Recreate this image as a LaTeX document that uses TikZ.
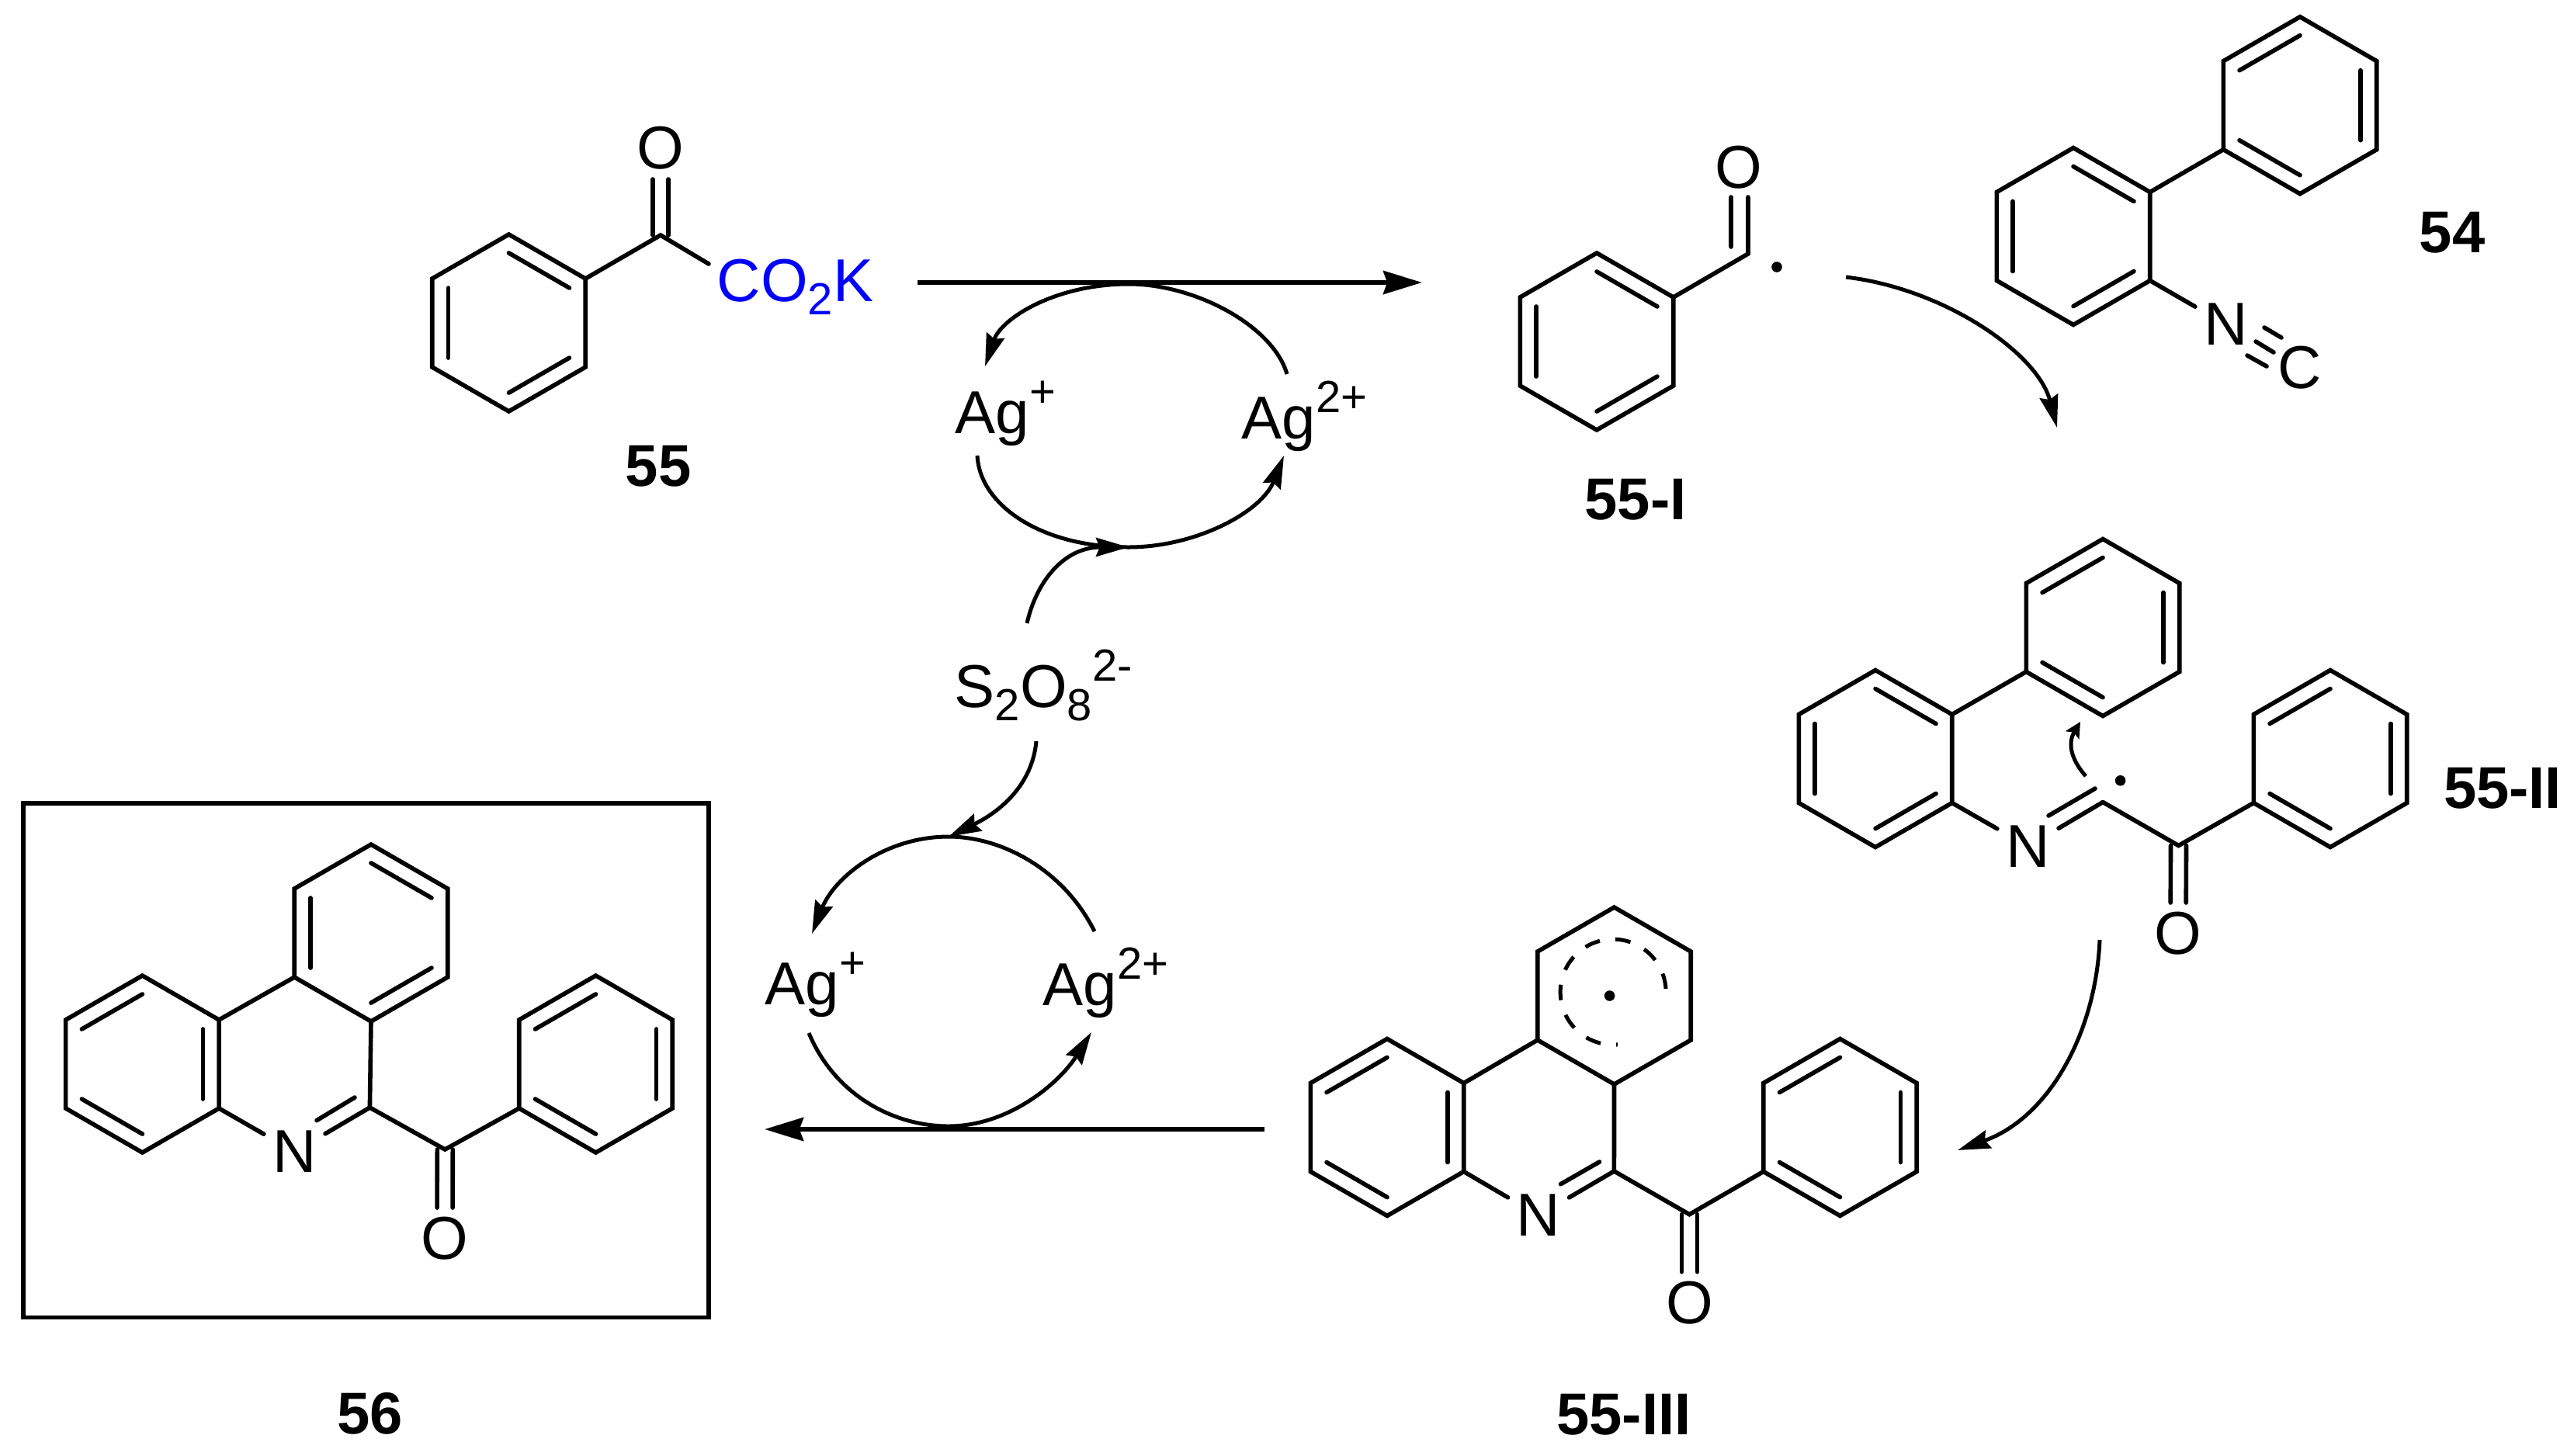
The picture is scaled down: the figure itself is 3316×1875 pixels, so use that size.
\documentclass[tikz,border=0pt]{standalone}
\usepackage{fontspec}
\setmainfont{Liberation Sans}
\usetikzlibrary{arrows.meta,calc}

\newcommand{\sbs}[1]{\raisebox{-4.3pt}{\fontsize{14.5}{15}\selectfont #1}}
\newcommand{\sps}[1]{\raisebox{8.3pt}{\fontsize{14.5}{15}\selectfont #1}}
% six named corners, clockwise from the top one
\newcommand{\hexring}[3]{
	\coordinate (#1c) at (#2,#3);
	\foreach \k in {1,...,6}
		\coordinate (#1\k) at ({#2+114*cos(60*\k-150)},{#3+114*sin(60*\k-150)});
	\draw[bond] (#11) -- (#12) -- (#13) -- (#14) -- (#15) -- (#16) -- cycle;
}
\newcommand{\ringdbl}[2]{
	\foreach \a/\b in {#2}
		\draw[bond] ($(#1\a)!.21!(#1c)$) -- ($(#1\b)!.21!(#1c)$);
}
\newcommand{\cobond}[2]{
	\draw[bond,shorten >=10pt] ([xshift=-2.5pt]#1) -- ([xshift=-2.5pt]#2.center);
	\draw[bond,shorten >=10pt] ([xshift=2.5pt]#1) -- ([xshift=2.5pt]#2.center);
}

\begin{document}
\begin{tikzpicture}[x=.25pt,y=-.25pt,
		every node/.style={font=\fontsize{19.5}{22}\selectfont},
		bond/.style={line width=1.4pt,line cap=round,line join=miter},
		rxn/.style={line width=1.5pt,-{Stealth[length=12.5pt,width=7.5pt,inset=1.3pt]}},
		curly/.style={line width=1.25pt,-{Stealth[length=10.5pt,width=6pt,inset=1.2pt]}},
		atom/.style={circle,inner sep=0pt,minimum size=22.5pt},
		txt/.style={inner sep=0pt,anchor=base west},
		cmpd/.style={inner sep=0pt,font=\fontsize{19}{22}\selectfont\bfseries},
		raddot/.style={circle,fill=black,inner sep=0pt,minimum size=3.4pt}]
	\useasboundingbox (0,0) rectangle (3316,1875);

	% 55
	\hexring{A}{655.5}{416}
	\ringdbl{A}{1/2,3/4,5/6}
	\coordinate (Ak) at (851,303);
	\coordinate (Ae) at (913,340);
	\node (AO) [atom] at (851,191) {O};
	\node (AK) [txt,text={rgb,255:red,0;green,0;blue,255}] at (923,388) {CO\sbs{2}K};
	\node (A55) [cmpd] at (848,601) {55};
	\draw[bond] (A2) -- (Ak) -- (Ae);
	\cobond{Ak}{AO}

	% 55-I
	\hexring{B}{2057}{440}
	\ringdbl{B}{1/2,3/4,5/6}
	\coordinate (Bk) at (2252,327);
	\coordinate (Bt) at (2252,254);
	\coordinate (Bu) at (2230,254);
	\coordinate (Bv) at (2230,318);
	\node (BO) [atom] at (2240,216) {O};
	\node (Bdot) [raddot] at (2289,344) {};
	\node (B55) [cmpd] at (2107,644) {55-I};
	\draw[bond] (B2) -- (Bk) -- (Bt) (Bu) -- (Bv);

	% 54
	\hexring{C}{2671}{304.5}
	\hexring{G}{2963}{135.7}
	\ringdbl{C}{1/2,3/4,5/6}
	\ringdbl{G}{6/1,2/3,4/5}
	\node (CN) [atom] at (2867.5,418) {N};
	\node (CC) [atom] at (2962.5,474) {C};
	\coordinate (Ct1) at (2917,422);
	\coordinate (Ct2) at (2939,435);
	\coordinate (Ct3) at (2906,440);
	\coordinate (Ct4) at (2929,454);
	\coordinate (Ct5) at (2895,458);
	\coordinate (Ct6) at (2920,472);
	\node (C54) [cmpd] at (3159,300) {54};
	\draw[bond] (C2) -- (G5) (C3) -- (CN) (Ct1) -- (Ct2) (Ct3) -- (Ct4) (Ct5) -- (Ct6);

	% 55-II
	\hexring{D}{2416}{977.5}
	\hexring{H}{2709}{808.5}
	\hexring{J}{3002}{977.5}
	\ringdbl{D}{1/2,3/4,5/6}
	\ringdbl{H}{6/1,2/3,4/5}
	\ringdbl{J}{6/1,2/3,4/5}
	\node (DN) [atom] at (2612.6,1090.5) {N};
	\node (DO) [atom] at (2806,1203) {O};
	\coordinate (Di) at (2709,1033.5);
	\coordinate (Dk) at (2806.5,1089.5);
	\coordinate (Du) at (2699,1016);
	\coordinate (Dv) at (2639,1051);
	\node (Ddot) [raddot] at (2731.6,1005.7) {};
	\node (D55) [cmpd] at (3224,1016) {55-II};
	\draw[bond] (D2) -- (H5) (D3) -- (DN) (Di) -- (DN) (Du) -- (Dv) (Di) -- (Dk) -- (J5);
	\cobond{Dk}{DO}

	% 55-III
	\hexring{E}{1787}{1452.5}
	\hexring{K}{2079.5}{1283}
	\hexring{L}{2370.5}{1452.5}
	\ringdbl{E}{6/1,2/3,4/5}
	\ringdbl{L}{6/1,2/3,4/5}
	\node (EN) [atom] at (1982,1566) {N};
	\node (EO) [atom] at (2176.4,1678.7) {O};
	\coordinate (Ei) at (2079.4,1509);
	\coordinate (Ek) at (2176.4,1564.7);
	\coordinate (Eu) at (2060.5,1497);
	\coordinate (Ev) at (2010.5,1525.7);
	\node (Edot) [raddot] at (2073.6,1283) {};
	\node (E55) [cmpd] at (2092,1822.5) {55-III};
	\draw[bond] (E2) -- (K5) (K4) -- (Ei) (E3) -- (EN) (Ei) -- (EN) (Eu) -- (Ev) (Ei) -- (Ek) -- (L5);
	\cobond{Ek}{EO}
	\draw[line width=1.25pt,dash pattern=on 5pt off 5pt] (2146,1274) arc[start angle=-3.5,end angle=-275,radius=68];

	% 56
	\draw[bond,line cap=butt] (30,1035) rectangle (913,1697.5);
	\hexring{F}{183.4}{1371}
	\hexring{M}{478}{1202}
	\hexring{P}{767.5}{1371}
	\ringdbl{F}{6/1,2/3,4/5}
	\ringdbl{M}{1/2,3/4,5/6}
	\ringdbl{P}{6/1,2/3,4/5}
	\node (FN) [atom] at (379.5,1484) {N};
	\node (FO) [atom] at (573,1596) {O};
	\coordinate (Fi) at (476.4,1427);
	\coordinate (Fk) at (573.3,1481);
	\coordinate (Fu) at (457,1414);
	\coordinate (Fv) at (408,1443.6);
	\node (F56) [cmpd] at (477,1821) {56};
	\draw[bond] (F2) -- (M5) (M4) -- (Fi) (F3) -- (FN) (Fi) -- (FN) (Fu) -- (Fv) (Fi) -- (Fk) -- (P5);
	\cobond{Fk}{FO}

	% upper silver cycle
	\node (Agp1) [txt] at (1230,558) {Ag\sps{+}};
	\node (Agd1) [txt] at (1599,565) {Ag\sps{2+}};
	\node (S2O8) [txt] at (1229,911) {S\sbs{2}O\sbs{8}\sps{2-}};
	\coordinate (r1a) at (1182,364);
	\coordinate (r1b) at (1832,364);
	\coordinate (u1) at (1658,482);
	\coordinate (u2) at (1454,366);
	\coordinate (u3) at (1269,472);
	\coordinate (v1) at (1259,587);
	\coordinate (v2) at (1454,705);
	\coordinate (v3) at (1654,587);
	\coordinate (s1) at (1323,803);
	\draw[rxn] (r1a) -- (r1b);
	\draw[curly] (u1) .. controls (1640,420) and (1540,366) .. (u2) .. controls (1360,366) and (1290,410) .. (u3);
	\draw[curly] (v1) .. controls (1262,650) and (1340,705) .. (v2) .. controls (1540,705) and (1625,660) .. (v3);
	\draw[curly] (s1) .. controls (1335,750) and (1370,705) .. (v2);

	% lower silver cycle
	\node (Agp2) [txt] at (985,1294) {Ag\sps{+}};
	\node (Agd2) [txt] at (1343,1295) {Ag\sps{2+}};
	\coordinate (r2a) at (1629,1455);
	\coordinate (r2b) at (985,1455);
	\coordinate (w1) at (1410,1200);
	\coordinate (w2) at (1222,1078);
	\coordinate (w3) at (1046,1203);
	\coordinate (y1) at (1042,1331);
	\coordinate (y2) at (1222,1451);
	\coordinate (y3) at (1406,1330);
	\coordinate (s2) at (1335,955);
	\draw[rxn] (r2a) -- (r2b);
	\draw[curly] (w1) .. controls (1370,1120) and (1290,1078) .. (w2) .. controls (1140,1078) and (1075,1130) .. (w3);
	\draw[curly] (y1) .. controls (1075,1410) and (1150,1451) .. (y2) .. controls (1300,1451) and (1365,1395) .. (y3);
	\draw[curly] (s2) .. controls (1330,1010) and (1290,1045) .. (w2);

	% between the intermediates
	\coordinate (t1) at (2378,357);
	\coordinate (t2) at (2650,551);
	\coordinate (t3) at (2705,1211);
	\coordinate (t4) at (2522,1482);
	\coordinate (t5) at (2687,1000);
	\coordinate (t6) at (2680,930);
	\draw[curly] (t1) .. controls (2505,372) and (2625,455) .. (t2);
	\draw[curly] (t3) .. controls (2700,1330) and (2640,1440) .. (t4);
	\draw[line width=1.25pt,-{Stealth[length=5pt,width=5pt,inset=1pt]}] (t5) .. controls (2665,975) and (2665,955) .. (t6);
\end{tikzpicture}
\end{document}
